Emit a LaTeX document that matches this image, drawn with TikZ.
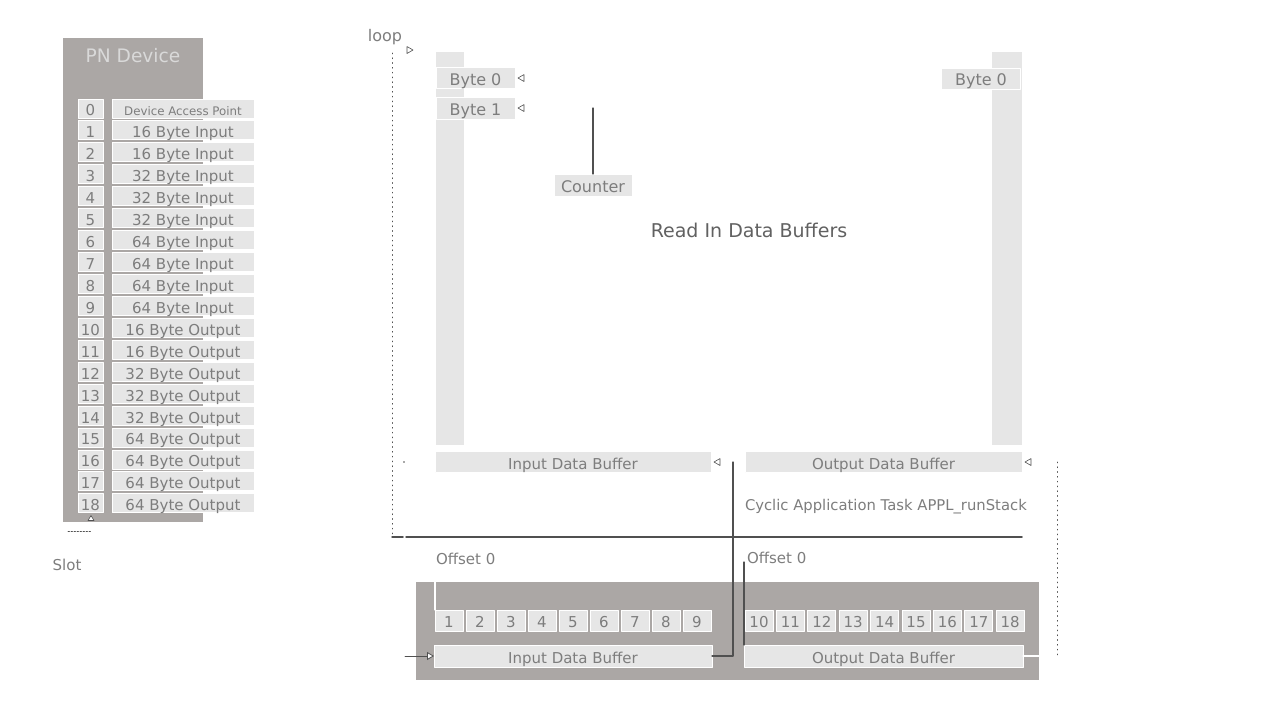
\documentclass[tikz,border=0pt]{standalone}
\usepackage{fontspec}
\setmainfont{DejaVu Sans}
\usetikzlibrary{arrows.meta}
\definecolor{panelgray}{RGB}{171,167,165}
\definecolor{boxgray}{RGB}{230,230,230}
\definecolor{txtgray}{RGB}{125,125,125}
\definecolor{linegray}{RGB}{80,80,80}
\newdimen\px \px=0.5pt
\tikzset{
    tipl/.pic={\draw[linegray, line width=0.6\px] (3,-3.5) -- (-3,0) -- (3,3.5) -- cycle;},
    tipr/.pic={\draw[linegray, line width=0.6\px] (-3,-3.5) -- (3,0) -- (-3,3.5) -- cycle;},
    tipu/.pic={\draw[linegray, fill=white, line width=0.6\px] (-3,2.5) -- (0,-2.5) -- (3,2.5) -- cycle;}
}

\begin{document}
\begin{tikzpicture}[x=0.5pt, y=-0.5pt, line cap=round, line join=round,
    every node/.style={text=txtgray, inner sep=0pt, outer sep=0pt, font=\fontsize{7.5}{9}\selectfont},
    box/.style={draw=white, fill=boxgray, line width=1\px, text height=1.4ex, text depth=0.05ex},
    slotbox/.style={box, minimum width=25\px, minimum height=19\px},
    modbox/.style={box, minimum width=142\px, minimum height=19\px},
    bytebox/.style={box, minimum width=79\px, minimum height=21\px, font=\fontsize{8}{10}\selectfont},
    bufbox/.style={box, minimum width=277\px, minimum height=21\px},
    cellbox/.style={box, minimum width=28\px, minimum height=21\px}]
    \useasboundingbox (0,0) rectangle (1280,720);

    %PN Device Panel
    \fill[panelgray] (63,38) rectangle (203,522);
    \node[font=\fontsize{9.3}{11}\selectfont, text=white!85!black] (pndev) at (133,56) {PN Device};

        %Slots and Modules
    \node[slotbox] (slot0) at (90.5,108.5) {0};
    \node[modbox, font=\fontsize{5.9}{7}\selectfont] (mod0) at (183,108.5) {Device Access Point};
    \foreach \s/\m in {1/16 Byte Input, 2/16 Byte Input, 3/32 Byte Input, 4/32 Byte Input,
        5/32 Byte Input, 6/64 Byte Input, 7/64 Byte Input, 8/64 Byte Input, 9/64 Byte Input,
        10/16 Byte Output, 11/16 Byte Output, 12/32 Byte Output, 13/32 Byte Output,
        14/32 Byte Output, 15/64 Byte Output, 16/64 Byte Output, 17/64 Byte Output, 18/64 Byte Output}{
        \node[slotbox] (slot\s) at (90.5,108.5+21.94*\s) {\s};
        \node[modbox] (mod\s) at (183,108.5+21.94*\s) {\m};
    }
    \pic at (91,518) {tipu};
    \coordinate (dashA) at (68,531);
    \coordinate (dashB) at (91,531);
    \draw[linegray, dash pattern=on 1.5\px off 1.5\px] (dashA) -- (dashB);
    \node (slotlbl) at (67,565) {Slot};

    %Loop
    \node[font=\fontsize{8}{10}\selectfont] (looplbl) at (385,37) {loop};
    \pic at (410,50) {tipr};
    \coordinate (loopT) at (392,53);
    \coordinate (loopB) at (392,537);
    \coordinate (loopE) at (1022,537);
    \draw[linegray, dotted] (loopT) -- (loopB);
    \draw[linegray, line width=1.5\px] (loopB) -- (403,537);
    \draw[linegray, line width=1.5\px] (406,537) -- (loopE);

    %Read In Data Buffers
    \fill[boxgray] (436,52) rectangle (464,445);
    \fill[boxgray] (992,52) rectangle (1022,445);
    \node[bytebox] (byte0) at (475.5,78) {Byte 0};
    \node[bytebox, minimum height=22\px] (byte1) at (475.5,108) {Byte 1};
    \node[bytebox] (byteout) at (981,78.5) {Byte 0};
    \pic at (521,78) {tipl};
    \pic at (521,108) {tipl};
    \node[bytebox, minimum width=78\px, minimum height=22\px] (counter) at (593,185) {Counter};
    \coordinate (cntT) at (593,108);
    \draw[linegray, line width=1.2\px] (cntT) -- (counter.north);
    \node[font=\fontsize{9.5}{11}\selectfont, text=black!62] (title) at (749,230) {Read In Data Buffers};

        %Buffers
    \node[bufbox, minimum width=276\px] (inbufT) at (573,462) {Input Data Buffer};
    \node[bufbox] (outbufT) at (883.5,462) {Output Data Buffer};
    \pic at (717,462) {tipl};
    \pic at (1028,462) {tipl};
    \fill[linegray] (404,462) circle (0.8);
    \node[anchor=west, font=\fontsize{7.4}{9}\selectfont] (task) at (745,507) {Cyclic Application Task APPL\_runStack};
    \coordinate (dotT) at (1057,462);
    \coordinate (dotB) at (1057,657);
    \draw[linegray, dotted] (dotT) -- (dotB);

    %Process Image
    \node[anchor=west] (offin) at (436,559) {Offset 0};
    \node[anchor=west] (offout) at (747,558) {Offset 0};
    \fill[panelgray] (416,582) rectangle (1039,680);
    \foreach \n in {1,...,9}
        \node[cellbox] (cell\n) at (449+31*\n-31,620.5) {\n};
    \foreach \n in {10,...,18}
        \node[cellbox] (cell\n) at (759+31.4*\n-314,620.5) {\n};
    \node[bufbox, minimum width=278\px, minimum height=22\px] (inbufB) at (573,656) {Input Data Buffer};
    \node[bufbox, minimum width=279\px, minimum height=22\px] (outbufB) at (883.5,656) {Output Data Buffer};

        %Connectors
    \coordinate (pnlT) at (434,582);
    \coordinate (offT) at (745,562);
    \coordinate (loopIn) at (405,656);
    \coordinate (pnlR) at (1039,656);
    \draw[white, line width=1.2\px] (cell1.north west) -- (cell1.north west |- pnlT);
    \draw[linegray, line width=1.2\px] (outbufB.north west) -- (outbufB.north west |- offT);
    \draw[linegray, line width=1.2\px] (inbufB.east) -| (733,462);
    \draw[white, line width=1.2\px] (outbufB.east) -- (pnlR);
    \draw[linegray, -{Triangle[fill=white, length=3.5pt, width=4pt]}] (loopIn) -- (inbufB.west);
\end{tikzpicture}
\end{document}
